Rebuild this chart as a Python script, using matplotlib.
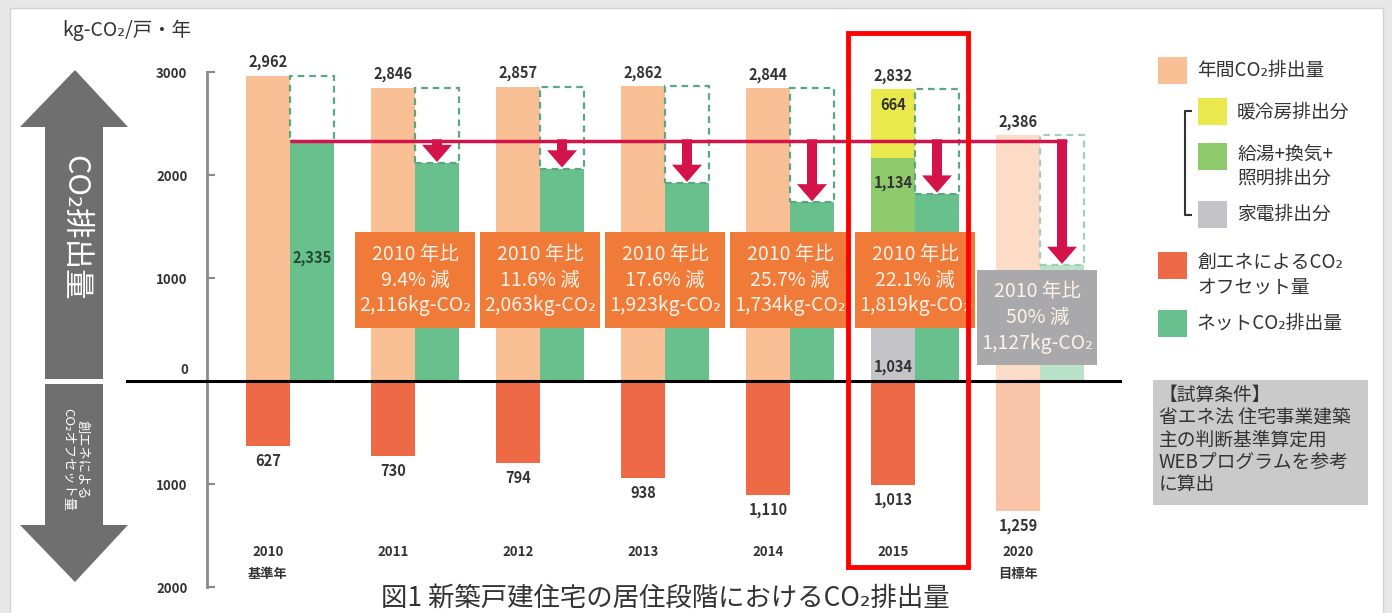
import matplotlib
matplotlib.use('Agg')
import matplotlib.pyplot as plt
from matplotlib.patches import Rectangle, Polygon

plt.rcParams['font.family'] = ['Noto Sans CJK JP', 'DejaVu Sans']

# data (kg-CO2 per house per year)
years = ['2010', '2011', '2012', '2013', '2014', '2015', '2020']
year_notes = ['基準年', '', '', '', '', '', '目標年']
gross = [2962, 2846, 2857, 2862, 2844, 2832, 2386]
offset = [627, 730, 794, 938, 1110, 1013, 1259]
net = [2335, 2116, 2063, 1923, 1734, 1819, 1127]
cut_pct = ['', '9.4%', '11.6%', '17.6%', '25.7%', '22.1%', '50%']
# 2015 breakdown
b2015_labels = ['家電排出分', '給湯+換気+\n照明排出分', '暖冷房排出分']
b2015_values = [1034, 1134, 664]

PEACH = '#f9bf95'
GREEN = '#68c08c'
OFFSET = '#ee6945'
YELLOW = '#e9e84c'
LGREEN = '#8ec96c'
GRAY = '#c3c3c8'
ORANGE = '#f07b38'
CRIMSON = '#d3134a'
TXT = '#333333'

x = list(range(len(years)))
bw = 0.352
px = [i - bw / 2 for i in x]
gx = [i + bw / 2 for i in x]

fig = plt.figure(figsize=(13.92, 6.13), dpi=100)
fig.patch.set_facecolor('#e7e7e7')

bg = fig.add_axes([0, 0, 1, 1], zorder=0)
bg.set_xlim(0, 1392)
bg.set_ylim(613, 0)
bg.axis('off')
bg.add_patch(Rectangle((10, 8), 1373, 620, facecolor='white', edgecolor='#d2d2d2', lw=1))

ax = fig.add_axes([207 / 1392, 13 / 613, 923 / 1392, 570 / 613], zorder=1)
ax.patch.set_alpha(0)
ax.set_xlim(-0.664, 6.72)
ax.set_ylim(-2126, 3408)

# bars
for i in x:
    if i == 5:
        bottom = 0
        for v, c in zip(b2015_values, [GRAY, LGREEN, YELLOW]):
            ax.bar(px[i], v, bw, bottom=bottom, color=c, zorder=2)
            bottom += v
    elif i == 6:
        ax.bar(px[i], gross[i], bw, color='#fddcc7', zorder=2)
        ax.bar(px[i], -offset[i], bw, color='#f9c3a8', zorder=2)
        continue
    else:
        ax.bar(px[i], gross[i], bw, color=PEACH, zorder=2)
    ax.bar(px[i], -offset[i], bw, color=OFFSET, zorder=2)

for i in x:
    ax.bar(gx[i], net[i], bw, color=GREEN if i < 6 else '#b9e2c9', zorder=2)
    ax.add_patch(Rectangle((gx[i] - bw / 2, net[i]), bw, gross[i] - net[i], fill=False,
                           ec='#5aa782' if i < 6 else '#9fd0b3', lw=1.6, ls=(0, (3, 2.2)), zorder=3))

# baseline
ax.plot([-1.304, 6.64], [0, 0], color='black', lw=2.2, clip_on=False, zorder=3)

# reference line + arrows
ax.plot([0, gx[6] + 0.04], [net[0], net[0]], color=CRIMSON, lw=2.5, zorder=4, solid_capstyle='butt')
for i in x[1:]:
    ax.annotate('', xy=(gx[i], net[i] + 10), xytext=(gx[i], net[0] + 12),
                arrowprops=dict(arrowstyle='simple,head_length=0.62,head_width=1.08,tail_width=0.36',
                                fc=CRIMSON, ec='none', mutation_scale=20, shrinkA=0, shrinkB=0),
                zorder=4)

# value labels
for i in x:
    ax.annotate(f'{gross[i]:,}', (px[i], gross[i]), xytext=(0, 4), textcoords='offset points',
                ha='center', va='bottom', fontsize=10.5, fontweight='bold', color=TXT)
    ax.annotate(f'{offset[i]:,}', (px[i], -offset[i]), xytext=(0, -5), textcoords='offset points',
                ha='center', va='top', fontsize=10.5, fontweight='bold', color=TXT)
    label = years[i] + ('\n' + year_notes[i] if year_notes[i] else '')
    ax.text(px[i], -1590, label, ha='center', va='top', fontsize=9.5, fontweight='bold',
            color=TXT, linespacing=1.75)
ax.text(gx[0], 1194, f'{net[0]:,}', ha='center', va='center', fontsize=10.5,
        fontweight='bold', color='#234a33', zorder=5)
ax.text(px[5], 2680, f'{b2015_values[2]:,}', ha='center', va='center', fontsize=10.5,
        fontweight='bold', color=TXT, zorder=5)
ax.text(px[5], 1925, f'{b2015_values[1]:,}', ha='center', va='center', fontsize=10.5,
        fontweight='bold', color=TXT, zorder=5)
ax.text(px[5], 140, f'{b2015_values[0]:,}', ha='center', va='center', fontsize=10.5,
        fontweight='bold', color=TXT, zorder=5)

# reduction boxes
for i in x[1:]:
    fc = ORANGE if i < 6 else '#a9a9ac'
    if i < 6:
        ax.add_patch(Rectangle((i - 0.48, 515), 0.96, 932, fc=fc, ec='none', zorder=5))
        cy = 981
        cx = i
    else:
        ax.add_patch(Rectangle((i - 0.5, 155), 0.955, 923, fc=fc, ec='none', zorder=5))
        cy = 616
        cx = i - 0.02
    ax.text(cx, cy, f'2010 年比\n{cut_pct[i]} 減\n{net[i]:,}kg-CO₂', ha='center', va='center',
            fontsize=14, color='#fdf1e8', linespacing=1.3, zorder=6)

# highlight for 2015
ax.add_patch(Rectangle((5 - 0.536, -1806), 0.96, 3379 + 1806, fill=False, ec='#ff0000',
                       lw=3.5, clip_on=False, zorder=7))

# axis
for s in ['top', 'right', 'bottom']:
    ax.spines[s].set_visible(False)
ax.spines['left'].set_bounds(-2000, 3000)
ax.spines['left'].set_color('#8a8a8a')
ax.spines['left'].set_linewidth(2)
ax.set_xticks([])
ax.set_yticks([3000, 2000, 1000, -1000, -2000])
ax.set_yticklabels(['3000', '2000', '1000', '1000', '2000'], fontsize=9.5, fontweight='bold',
                   color=TXT)
ax.tick_params(axis='y', direction='in', length=6, width=1.5, color='#8a8a8a', pad=14)
ax.text(-0.664 - 19 / 125, 110, '0', ha='right', va='center', fontsize=9.5, fontweight='bold',
        color=TXT)

# left big arrows
bg.add_patch(Polygon([(75, 70), (128, 127), (103, 127), (103, 379), (45, 379), (45, 127), (20, 127)],
                     closed=True, fc='#6f6f6f', ec='none'))
bg.add_patch(Polygon([(45, 384), (103, 384), (103, 525), (128, 525), (75, 582), (20, 525), (45, 525)],
                     closed=True, fc='#6f6f6f', ec='none'))
bg.text(75, 228, 'CO₂排出量', rotation=-90, ha='center', va='center', fontsize=22, color='white')
bg.text(75, 460, '創エネによる\nCO₂オフセット量', rotation=-90, ha='center', va='center',
        fontsize=9.5, color='white', linespacing=1.1)

bg.text(62, 30, 'kg-CO₂/戸・年', va='center', fontsize=14, color=TXT)

# legend
leg = [
    (1158, 57, PEACH, '年間CO₂排出量', 70),
    (1198, 98, YELLOW, '暖冷房排出分', 112),
    (1198, 143, LGREEN, '給湯+換気+\n照明排出分', 166),
    (1198, 201, GRAY, '家電排出分', 214),
    (1158, 252, OFFSET, '創エネによるCO₂\nオフセット量', 275),
    (1158, 310, GREEN, 'ネットCO₂排出量', 323),
]
for lx, ly, c, t, ty in leg:
    bg.add_patch(Rectangle((lx, ly), 29, 27, fc=c, ec='none'))
    bg.text(lx + 39, ty, t, va='center', fontsize=13.5, color=TXT, linespacing=1.2)
bg.plot([1191, 1185, 1185, 1191], [111, 111, 215, 215], color=TXT, lw=1.5)

bg.add_patch(Rectangle((1153, 380), 215, 125, fc='#cacaca', ec='none'))
bg.text(1159, 385, '【試算条件】\n省エネ法 住宅事業建築\n主の判断基準算定用\nWEBプログラムを参考\nに算出',
        va='top', ha='left', fontsize=13.5, color=TXT, linespacing=1.08)

bg.text(665, 598, '図1 新築戸建住宅の居住段階におけるCO₂排出量', ha='center', va='center',
        fontsize=19, color=TXT)

fig.savefig('out.png', dpi=100, facecolor=fig.get_facecolor())
